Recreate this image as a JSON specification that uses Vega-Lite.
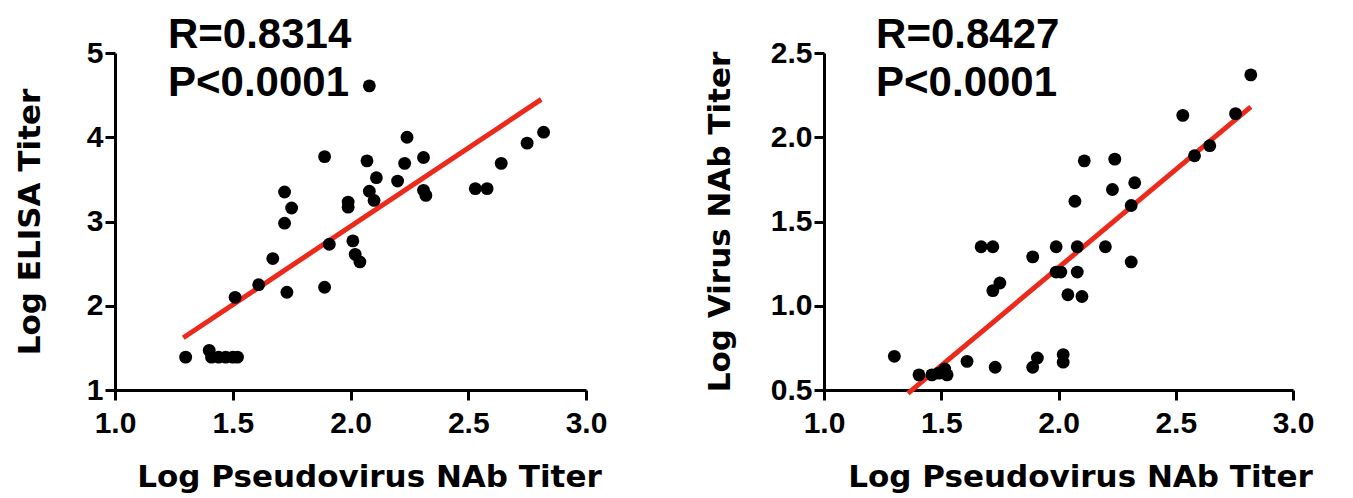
{
  "$schema": "https://vega.github.io/schema/vega-lite/v6.json",
  "background": "white",
  "padding": {"left": 14, "top": 13, "right": 5, "bottom": 5},
  "spacing": 238,
  "bounds": "flush",
  "config": {
    "view": {"stroke": null},
    "axis": {
      "grid": false,
      "domainColor": "black", "domainWidth": 3,
      "tickColor": "black", "tickWidth": 3, "tickSize": 10,
      "labelFont": "Liberation Sans", "labelFontWeight": "bold", "labelFontSize": 30, "labelColor": "black",
      "titleFont": "DejaVu Sans", "titleFontWeight": "bold", "titleFontSize": 31, "titleColor": "black",
      "labelFlush": false, "labelOverlap": false
    }
  },
  "datasets": {
    "elisa": [
      {"x": 1.30, "y": 1.39}, {"x": 1.40, "y": 1.47}, {"x": 1.41, "y": 1.39}, {"x": 1.44, "y": 1.39},
      {"x": 1.47, "y": 1.39}, {"x": 1.50, "y": 1.39}, {"x": 1.52, "y": 1.39},
      {"x": 1.51, "y": 2.10}, {"x": 1.61, "y": 2.25}, {"x": 1.67, "y": 2.56}, {"x": 1.73, "y": 2.16},
      {"x": 1.72, "y": 2.98}, {"x": 1.72, "y": 3.35}, {"x": 1.75, "y": 3.16},
      {"x": 1.89, "y": 3.77}, {"x": 1.89, "y": 2.22}, {"x": 1.91, "y": 2.73},
      {"x": 1.99, "y": 3.23}, {"x": 1.99, "y": 3.17}, {"x": 2.01, "y": 2.77}, {"x": 2.02, "y": 2.61}, {"x": 2.04, "y": 2.52},
      {"x": 2.08, "y": 4.61}, {"x": 2.07, "y": 3.72}, {"x": 2.08, "y": 3.36}, {"x": 2.10, "y": 3.25}, {"x": 2.11, "y": 3.52},
      {"x": 2.20, "y": 3.48}, {"x": 2.23, "y": 3.69}, {"x": 2.24, "y": 4.00},
      {"x": 2.31, "y": 3.76}, {"x": 2.31, "y": 3.37}, {"x": 2.32, "y": 3.31},
      {"x": 2.53, "y": 3.39}, {"x": 2.58, "y": 3.39}, {"x": 2.64, "y": 3.69}, {"x": 2.75, "y": 3.93}, {"x": 2.82, "y": 4.06}
    ],
    "elisaFit": [{"x": 1.29, "y": 1.62}, {"x": 2.81, "y": 4.45}],
    "elisaText": [
      {"x": 1.225, "y": 5.06, "label": "R=0.8314"},
      {"x": 1.225, "y": 4.49, "label": "P<0.0001"}
    ],
    "virus": [
      {"x": 1.30, "y": 0.70}, {"x": 1.405, "y": 0.59}, {"x": 1.46, "y": 0.59}, {"x": 1.49, "y": 0.60},
      {"x": 1.515, "y": 0.625}, {"x": 1.525, "y": 0.59}, {"x": 1.61, "y": 0.67},
      {"x": 1.67, "y": 1.35}, {"x": 1.72, "y": 1.35}, {"x": 1.72, "y": 1.09}, {"x": 1.75, "y": 1.135},
      {"x": 1.73, "y": 0.635}, {"x": 1.89, "y": 1.29}, {"x": 1.89, "y": 0.635}, {"x": 1.91, "y": 0.69},
      {"x": 1.99, "y": 1.35}, {"x": 1.99, "y": 1.20}, {"x": 2.01, "y": 1.20}, {"x": 2.02, "y": 0.71}, {"x": 2.02, "y": 0.665},
      {"x": 2.04, "y": 1.065}, {"x": 2.07, "y": 1.62}, {"x": 2.08, "y": 1.35}, {"x": 2.08, "y": 1.20}, {"x": 2.10, "y": 1.055},
      {"x": 2.11, "y": 1.86}, {"x": 2.20, "y": 1.35}, {"x": 2.23, "y": 1.69}, {"x": 2.24, "y": 1.87},
      {"x": 2.31, "y": 1.595}, {"x": 2.31, "y": 1.26}, {"x": 2.325, "y": 1.73},
      {"x": 2.53, "y": 2.13}, {"x": 2.58, "y": 1.89}, {"x": 2.645, "y": 1.95}, {"x": 2.755, "y": 2.14}, {"x": 2.82, "y": 2.37}
    ],
    "virusFit": [{"x": 1.358, "y": 0.48}, {"x": 2.82, "y": 2.18}],
    "virusText": [
      {"x": 1.222, "y": 2.53, "label": "R=0.8427"},
      {"x": 1.222, "y": 2.245, "label": "P<0.0001"}
    ]
  },
  "hconcat": [
    {
      "width": 471,
      "height": 337,
      "encoding": {
        "x": {"field": "x", "type": "quantitative",
          "scale": {"domain": [1, 3], "nice": false, "zero": false},
          "axis": {"values": [1, 1.5, 2, 2.5, 3], "format": ".1f", "title": "Log Pseudovirus NAb Titer",
            "labelPadding": 8, "titlePadding": 24, "titleX": 254, "titleAlign": "center"}},
        "y": {"field": "y", "type": "quantitative",
          "scale": {"domain": [1, 5], "nice": false, "zero": false},
          "axis": {"values": [1, 2, 3, 4, 5], "format": "d", "title": "Log ELISA Titer",
            "labelPadding": 2, "titlePadding": 40}}
      },
      "layer": [
        {"data": {"name": "elisaFit"}, "mark": {"type": "line", "color": "#ec2a1c", "strokeWidth": 5}},
        {"data": {"name": "elisa"}, "mark": {"type": "circle", "size": 165, "color": "black", "opacity": 1}},
        {"data": {"name": "elisaText"},
          "mark": {"type": "text", "align": "left", "baseline": "alphabetic", "font": "Liberation Sans", "fontWeight": "bold", "fontSize": 42, "color": "black"},
          "encoding": {"text": {"field": "label", "type": "nominal"}}}
      ]
    },
    {
      "width": 469,
      "height": 337,
      "encoding": {
        "x": {"field": "x", "type": "quantitative",
          "scale": {"domain": [1, 3], "nice": false, "zero": false},
          "axis": {"values": [1, 1.5, 2, 2.5, 3], "format": ".1f", "title": "Log Pseudovirus NAb Titer",
            "labelPadding": 8, "titlePadding": 24, "titleX": 256, "titleAlign": "center"}},
        "y": {"field": "y", "type": "quantitative",
          "scale": {"domain": [0.5, 2.5], "nice": false, "zero": false},
          "axis": {"values": [0.5, 1, 1.5, 2, 2.5], "format": ".1f", "title": "Log Virus NAb Titer",
            "labelPadding": 2, "titlePadding": 34}}
      },
      "layer": [
        {"data": {"name": "virusFit"}, "mark": {"type": "line", "color": "#ec2a1c", "strokeWidth": 5}},
        {"data": {"name": "virus"}, "mark": {"type": "circle", "size": 165, "color": "black", "opacity": 1}},
        {"data": {"name": "virusText"},
          "mark": {"type": "text", "align": "left", "baseline": "alphabetic", "font": "Liberation Sans", "fontWeight": "bold", "fontSize": 42, "color": "black"},
          "encoding": {"text": {"field": "label", "type": "nominal"}}}
      ]
    }
  ]
}
